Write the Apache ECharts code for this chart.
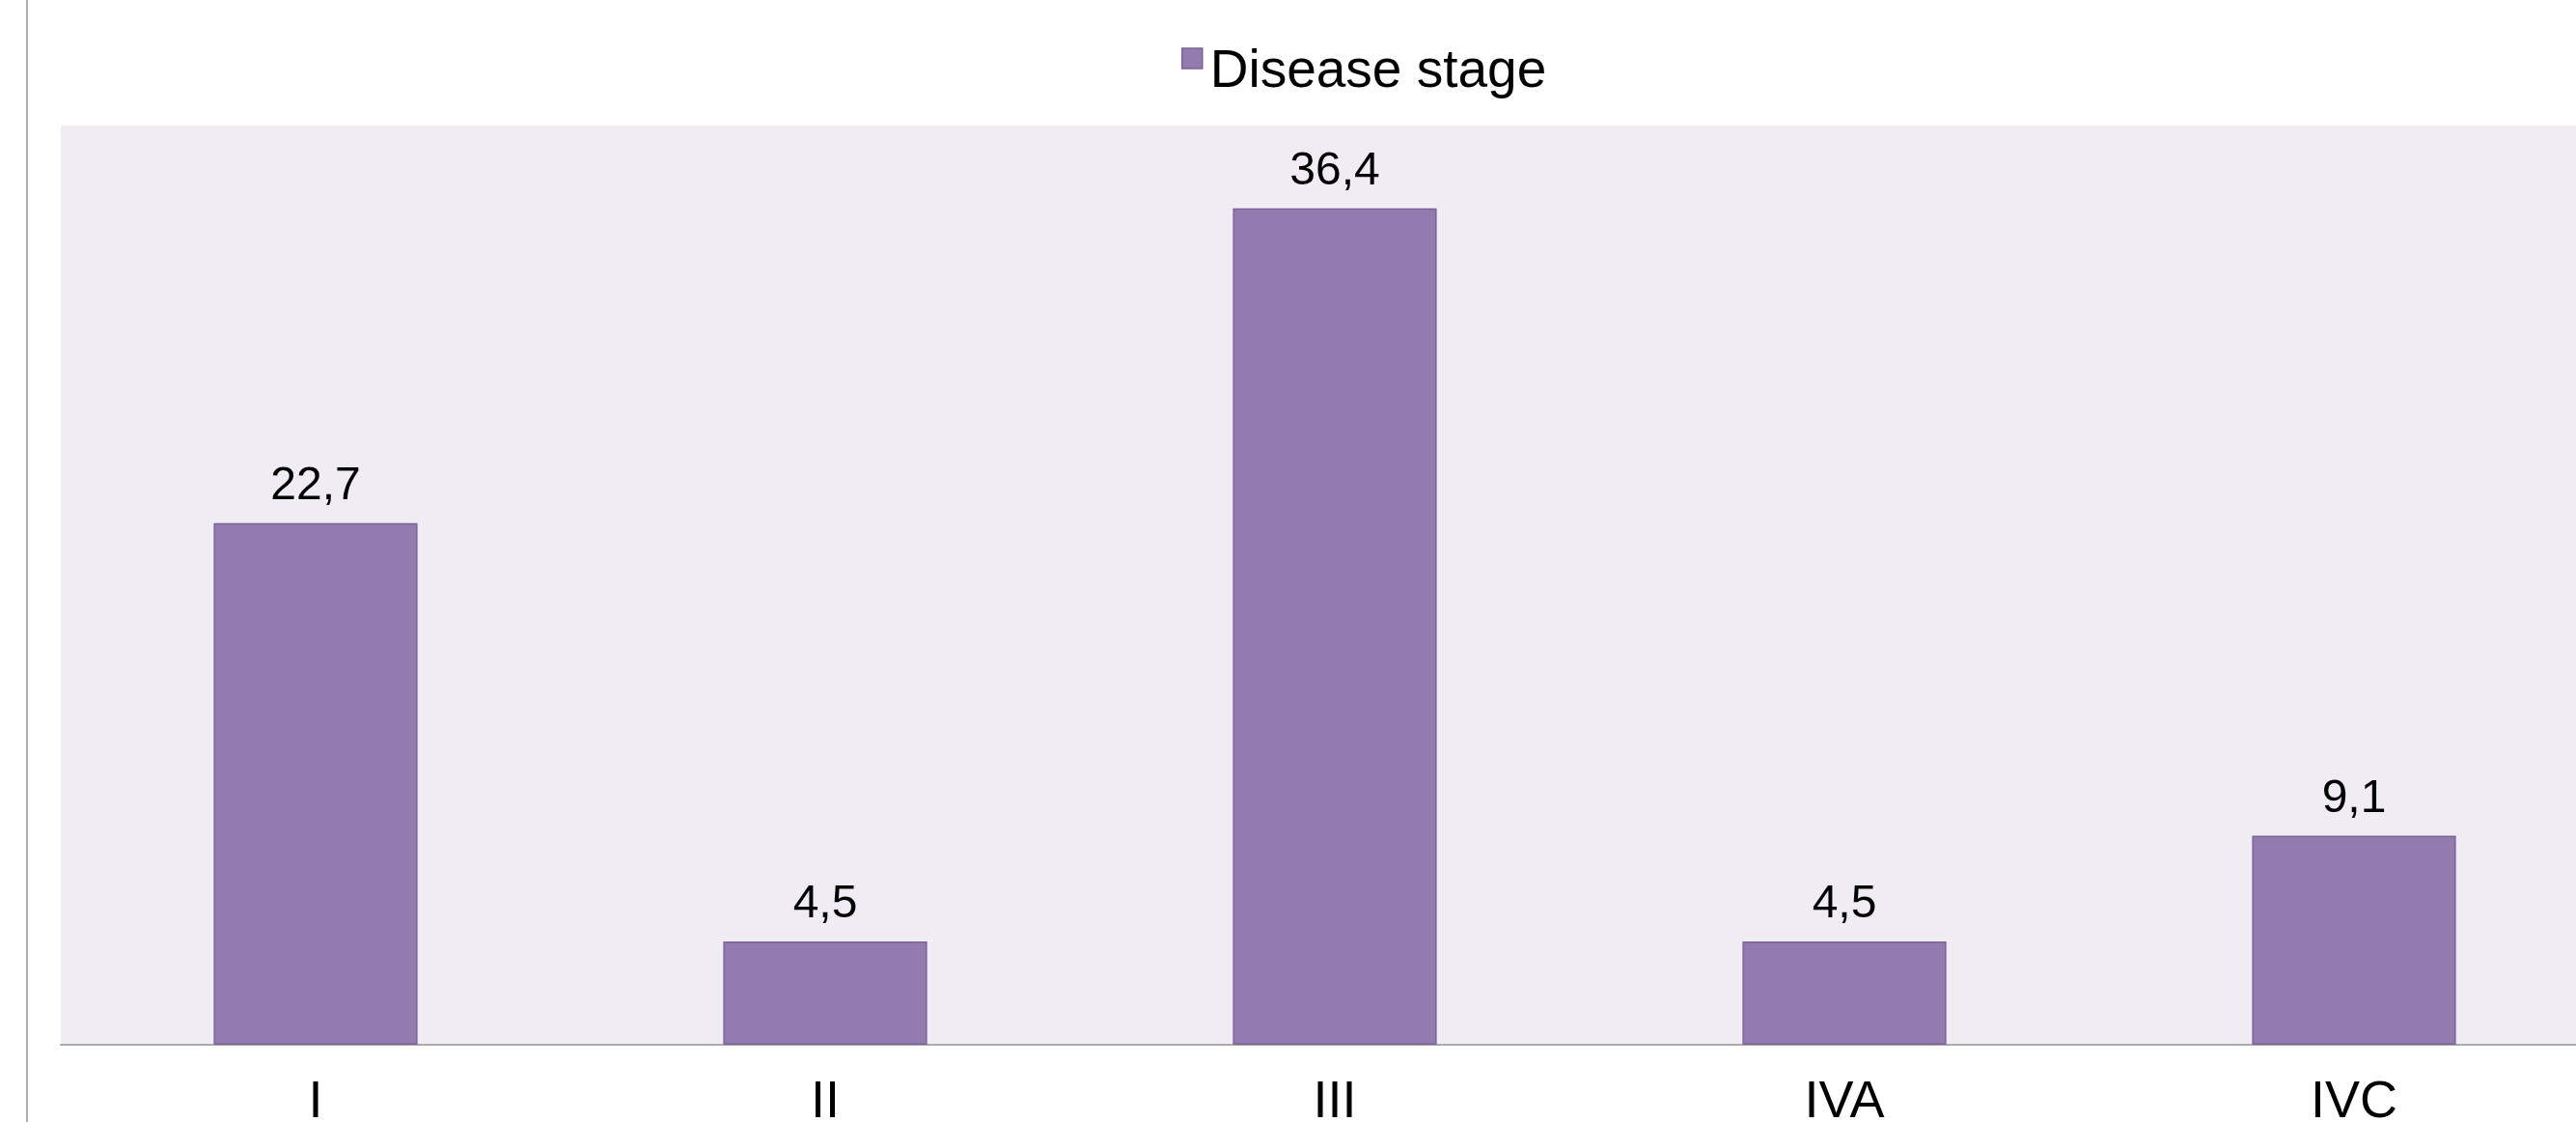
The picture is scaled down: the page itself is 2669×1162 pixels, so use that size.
<!DOCTYPE html>
<html>
<head>
<meta charset="utf-8">
<script src="https://cdn.jsdelivr.net/npm/echarts@6/dist/echarts.min.js"></script>
<style>
  html, body { margin: 0; padding: 0; background: #ffffff; width: 2669px; height: 1162px; overflow: hidden; }
  #wrap { position: relative; width: 2669px; height: 1162px; overflow: hidden; }
  /* the plot runs past the right edge of the page, so the canvas is a little wider */
  #chart { position: absolute; left: 0; top: 0; width: 2710px; height: 1162px; }
</style>
</head>
<body>
<div id="wrap"><div id="chart"></div></div>
<script>
// Distribution of disease stage (%)
const seriesName = 'Disease stage';
const stages = ['I', 'II', 'III', 'IVA', 'IVC'];
const stageShare = [22.7, 4.5, 36.4, 4.5, 9.1];

const FONT = '"Liberation Sans", Arial, Helvetica, sans-serif';

const chart = echarts.init(document.getElementById('chart'), null, { renderer: 'canvas' });

chart.setOption({
  animation: false,
  backgroundColor: '#ffffff',
  textStyle: { fontFamily: FONT },
  graphic: [
    {
      type: 'line',
      shape: { x1: 28, y1: 0, x2: 28, y2: 1162 },
      style: { stroke: '#aaaaaa', lineWidth: 2 },
      silent: true
    }
  ],
  legend: {
    data: [seriesName],
    left: 1224,
    top: 47,
    padding: 0,
    icon: 'rect',
    itemWidth: 21,
    itemHeight: 21,
    itemStyle: { borderColor: '#7b6399', borderWidth: 1.5 },
    formatter: '{t|{name}}',
    textStyle: {
      color: '#000000',
      fontFamily: FONT,
      rich: {
        t: { fontSize: 55, color: '#000000', fontFamily: FONT, padding: [28, 0, 0, 3] }
      }
    }
  },
  grid: {
    left: 63,
    top: 130,
    width: 2640,
    height: 952,
    show: true,
    backgroundColor: '#efedf3',
    borderWidth: 0,
    containLabel: false,
    outerBoundsMode: 'none'
  },
  xAxis: {
    type: 'category',
    data: stages,
    axisLine: { show: true, lineStyle: { color: '#aaaaaa', width: 2 } },
    axisTick: { show: false },
    splitLine: { show: false },
    axisLabel: { fontSize: 54, color: '#000000', margin: 33, fontFamily: FONT }
  },
  yAxis: {
    type: 'value',
    min: 0,
    max: 40,
    show: false,
    splitLine: { show: false }
  },
  series: [
    {
      name: seriesName,
      type: 'bar',
      data: stageShare,
      barWidth: '40%',
      itemStyle: { color: '#937bb0', borderColor: '#7b6399', borderWidth: 1.5 },
      label: {
        show: true,
        position: 'top',
        distance: 14,
        fontSize: 48,
        color: '#000000',
        fontFamily: FONT,
        formatter: p => String(p.value).replace('.', ',')
      }
    }
  ]
});
</script>
</body>
</html>
